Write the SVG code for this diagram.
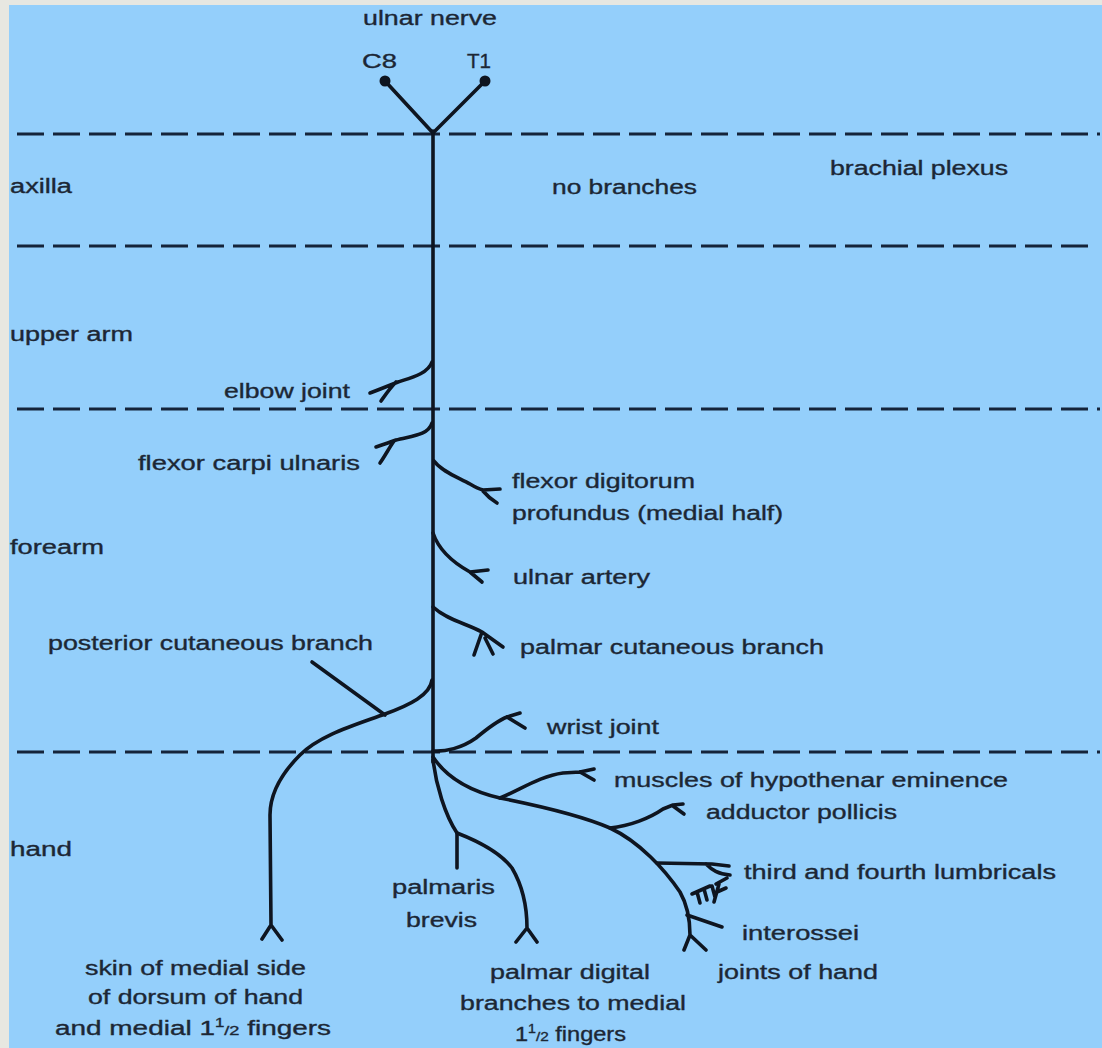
<svg xmlns="http://www.w3.org/2000/svg" width="1102" height="1048" viewBox="0 0 1102 1048">
<defs>
<style>
.t{font-family:"Liberation Sans",Arial,sans-serif;font-size:20px;fill:#1c2735;stroke:#1c2735;stroke-width:0.35}
.dash{stroke:#15243a;stroke-width:3.2;stroke-dasharray:27 9;fill:none}
.n{stroke:#0e1520;stroke-width:3.6;fill:none;stroke-linecap:round;stroke-linejoin:round}
.sup{font-size:12px}
.sub{font-size:13px}
</style>
</defs>
<rect x="0" y="0" width="1102" height="1048" fill="#e7e7e1"/>
<rect x="9" y="5" width="1093" height="1043" fill="#94cffb"/>

<g id="levels">
<line class="dash" x1="17" y1="134" x2="1100" y2="134"/>
<line class="dash" x1="17" y1="246" x2="1096" y2="246"/>
<line class="dash" x1="17" y1="409" x2="1100" y2="409"/>
<line class="dash" x1="17" y1="752" x2="1100" y2="752"/>
</g>

<g id="connectors">
<path class="n" d="M385,81 L433,133 L485,81" stroke-width="5"/>
<circle cx="385" cy="81" r="5.5" fill="#0e1520"/>
<circle cx="485" cy="81" r="5.5" fill="#0e1520"/>
<path class="n" d="M433,131 L433,762" stroke-width="6.5"/>
<!-- elbow joint -->
<path class="n" d="M432,362 C428,374 410,378 398,382 C388,386 378,390 370,393 M396,382 C390,388 386,394 381,401"/>
<!-- flexor carpi ulnaris -->
<path class="n" d="M432,423 C428,436 410,436 396,440 C388,443 382,445 376,447 M394,441 C389,448 385,456 380,463"/>
<!-- flexor digitorum profundus -->
<path class="n" d="M434,461 C442,472 460,478 470,484 C475,487 479,489 483,490 L500,489 M483,491 C488,497 492,500 497,503"/>
<!-- ulnar artery -->
<path class="n" d="M433,533 C438,548 452,562 470,572 L488,570 M470,572 L482,582"/>
<!-- palmar cutaneous -->
<path class="n" d="M433,607 C447,620 468,624 482,632 L503,647 M482,632 L474,655 M485,638 L493,654"/>
<!-- posterior cutaneous -->
<path class="n" d="M432,680 C430,695 410,705 385,714 C355,725 320,735 300,755 C280,775 270,795 270,815 L271,925 M271,925 L262,939 M271,925 L282,940"/>
<path class="n" d="M312,662 L385,715" stroke-width="3"/>
<!-- wrist joint -->
<path class="n" d="M433,751 C445,752 462,748 476,738 C488,728 497,721 507,717 L520,713 M507,717 L525,728"/>
<!-- main deep branch -->
<path class="n" d="M433,757 C445,775 465,790 500,798 C540,806 580,815 610,828 C640,842 665,870 680,892 C688,906 690,922 690,935 M690,935 L684,950 M690,935 L706,950"/>
<!-- hypothenar -->
<path class="n" d="M500,798 C520,790 540,776 563,773 L580,772 L594,769 M580,772 L594,780"/>
<!-- adductor pollicis -->
<path class="n" d="M610,828 C630,826 650,818 663,809 L673,805 L683,804 M673,806 L684,814"/>
<!-- lumbricals -->
<path class="n" d="M657,863 L712,864 L729,866 M706,864 C712,870 718,874 730,875"/>
<!-- interossei -->
<path class="n" d="M687,915 L722,927"/>
<!-- small branches scribble -->
<path class="n" stroke-width="2.6" d="M692,894 L710,886 M697,892 L700,903 M704,889 L707,900 M712,886 L715,897 M716,884 L727,878 M719,884 L714,902 M717,892 L726,888"/>
<!-- palmaris brevis -->
<path class="n" d="M433,760 C436,785 445,815 457,833 L457,868"/>
<!-- palmar digital -->
<path class="n" d="M457,833 C475,840 500,852 512,868 C522,885 527,905 527,928 M527,928 L516,942 M527,928 L537,942"/>
</g>

<g id="title"><text class="t" x="363" y="25" textLength="134" lengthAdjust="spacingAndGlyphs">ulnar nerve</text></g>
<g id="c8"><text class="t" x="362" y="68" textLength="35" lengthAdjust="spacingAndGlyphs">C8</text></g>
<g id="t1"><text class="t" x="467" y="68" textLength="24" lengthAdjust="spacingAndGlyphs">T1</text></g>

<g id="region-axilla"><text class="t" x="10" y="193" textLength="62" lengthAdjust="spacingAndGlyphs">axilla</text></g>
<g id="region-upper-arm"><text class="t" x="10" y="341" textLength="123" lengthAdjust="spacingAndGlyphs">upper arm</text></g>
<g id="region-forearm"><text class="t" x="10" y="554" textLength="94" lengthAdjust="spacingAndGlyphs">forearm</text></g>
<g id="region-hand"><text class="t" x="10" y="856" textLength="62" lengthAdjust="spacingAndGlyphs">hand</text></g>

<g id="no-branches"><text class="t" x="552" y="194" textLength="145" lengthAdjust="spacingAndGlyphs">no branches</text></g>
<g id="brachial-plexus"><text class="t" x="830" y="175" textLength="178" lengthAdjust="spacingAndGlyphs">brachial plexus</text></g>
<g id="elbow-joint"><text class="t" x="224" y="398" textLength="126" lengthAdjust="spacingAndGlyphs">elbow joint</text></g>
<g id="flexor-carpi-ulnaris"><text class="t" x="138" y="470" textLength="222" lengthAdjust="spacingAndGlyphs">flexor carpi ulnaris</text></g>
<g id="flexor-digitorum-profundus">
<text class="t" x="512" y="488" textLength="183" lengthAdjust="spacingAndGlyphs">flexor digitorum</text>
<text class="t" x="512" y="520" textLength="271" lengthAdjust="spacingAndGlyphs">profundus (medial half)</text>
</g>
<g id="ulnar-artery"><text class="t" x="513" y="584" textLength="137" lengthAdjust="spacingAndGlyphs">ulnar artery</text></g>
<g id="posterior-cutaneous"><text class="t" x="48" y="650" textLength="325" lengthAdjust="spacingAndGlyphs">posterior cutaneous branch</text></g>
<g id="palmar-cutaneous"><text class="t" x="520" y="654" textLength="304" lengthAdjust="spacingAndGlyphs">palmar cutaneous branch</text></g>
<g id="wrist-joint"><text class="t" x="547" y="734" textLength="112" lengthAdjust="spacingAndGlyphs">wrist joint</text></g>
<g id="hypothenar"><text class="t" x="614" y="787" textLength="394" lengthAdjust="spacingAndGlyphs">muscles of hypothenar eminence</text></g>
<g id="adductor-pollicis"><text class="t" x="706" y="819" textLength="191" lengthAdjust="spacingAndGlyphs">adductor pollicis</text></g>
<g id="lumbricals"><text class="t" x="744" y="879" textLength="312" lengthAdjust="spacingAndGlyphs">third and fourth lumbricals</text></g>
<g id="palmaris-brevis">
<text class="t" x="392" y="894" textLength="103" lengthAdjust="spacingAndGlyphs">palmaris</text>
<text class="t" x="406" y="927" textLength="71" lengthAdjust="spacingAndGlyphs">brevis</text>
</g>
<g id="interossei"><text class="t" x="742" y="940" textLength="117" lengthAdjust="spacingAndGlyphs">interossei</text></g>
<g id="joints-of-hand"><text class="t" x="718" y="979" textLength="160" lengthAdjust="spacingAndGlyphs">joints of hand</text></g>
<g id="skin-dorsum">
<text class="t" x="85" y="975" textLength="221" lengthAdjust="spacingAndGlyphs">skin of medial side</text>
<text class="t" x="88" y="1004" textLength="215" lengthAdjust="spacingAndGlyphs">of dorsum of hand</text>
<text class="t" x="55" y="1035" textLength="276" lengthAdjust="spacingAndGlyphs">and medial 1<tspan class="sup" dy="-8">1</tspan><tspan class="sub" dy="8">/2</tspan> fingers</text>
</g>
<g id="palmar-digital">
<text class="t" x="490" y="979" textLength="160" lengthAdjust="spacingAndGlyphs">palmar digital</text>
<text class="t" x="460" y="1010" textLength="226" lengthAdjust="spacingAndGlyphs">branches to medial</text>
<text class="t" x="515" y="1041" textLength="111" lengthAdjust="spacingAndGlyphs">1<tspan class="sup" dy="-8">1</tspan><tspan class="sub" dy="8">/2</tspan> fingers</text>
</g>
</svg>
